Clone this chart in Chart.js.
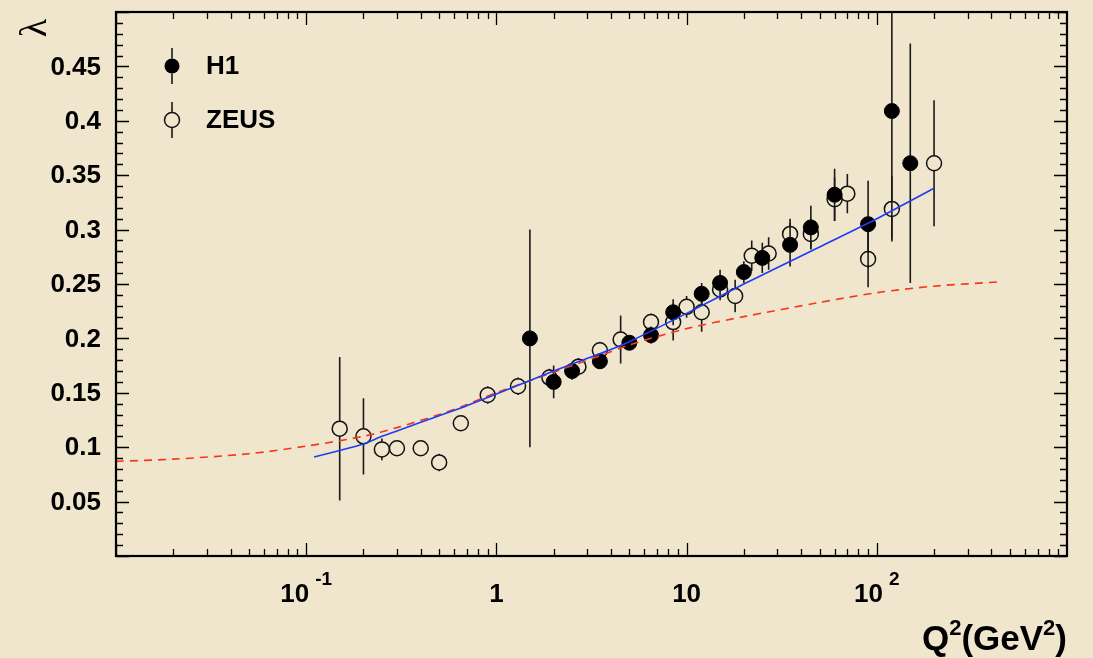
<!DOCTYPE html>
<html>
<head>
<meta charset="utf-8">
<script src="https://cdn.jsdelivr.net/npm/chart.js@4.4.0/dist/chart.umd.min.js"></script>
<style>
  html, body { margin: 0; padding: 0; background: #f0e6cd; }
  #graph { display: block; }
</style>
</head>
<body>
<canvas id="graph" width="1093" height="658"></canvas>
<script>
// H1 measurements (filled circles)
var h1Q2     = [1.5, 2, 2.5, 3.5, 5, 6.5, 8.5, 12, 15, 20, 25, 35, 45, 60, 90, 120, 150];
var h1Lambda = [0.200, 0.160, 0.170, 0.179, 0.196, 0.203, 0.224, 0.241, 0.251, 0.261, 0.274, 0.286, 0.302, 0.332, 0.305, 0.409, 0.361];
var h1Err    = [0.100, 0.015, 0.008, 0.007, 0.007, 0.008, 0.012, 0.010, 0.012, 0.010, 0.014, 0.020, 0.020, 0.024, 0.040, 0.118, 0.110];

// ZEUS measurements (open circles)
var zeusQ2     = [0.15, 0.2, 0.25, 0.3, 0.4, 0.5, 0.65, 0.9, 1.3, 1.9, 2.7, 3.5, 4.5, 6.5, 8.5, 10, 12, 15, 18, 22, 27, 35, 45, 60, 70, 90, 120, 200];
var zeusLambda = [0.117, 0.110, 0.098, 0.099, 0.099, 0.086, 0.122, 0.148, 0.156, 0.164, 0.174, 0.189, 0.199, 0.215, 0.215, 0.229, 0.224, 0.245, 0.239, 0.276, 0.278, 0.296, 0.296, 0.328, 0.333, 0.273, 0.319, 0.361];
var zeusErr    = [0.066, 0.035, 0.010, 0.004, 0.004, 0.008, 0.004, 0.008, 0.008, 0.008, 0.008, 0.008, 0.022, 0.008, 0.017, 0.010, 0.018, 0.010, 0.015, 0.014, 0.015, 0.014, 0.014, 0.020, 0.018, 0.026, 0.030, 0.058];

// fit curves
var blueQ2     = [0.11, 0.15, 0.2, 0.25, 0.3, 0.5, 0.65, 1, 2, 3.5, 5, 10, 20, 50, 100, 200];
var blueLambda = [0.091, 0.097, 0.103, 0.110, 0.115, 0.129, 0.136, 0.149, 0.170, 0.186, 0.197, 0.223, 0.250, 0.284, 0.310, 0.338];
var redQ2      = [0.01, 0.02, 0.05, 0.1, 0.2, 0.3, 0.5, 0.65, 1, 2, 3.5, 5, 10, 20, 50, 100, 200, 445];
var redLambda  = [0.087, 0.089, 0.094, 0.101, 0.110, 0.118, 0.130, 0.137, 0.150, 0.169, 0.184, 0.194, 0.209, 0.220, 0.233, 0.242, 0.248, 0.252];

// axis labels
var yTickValues = [0.05, 0.1, 0.15, 0.2, 0.25, 0.3, 0.35, 0.4, 0.45];
var yTickLabels = ['0.05', '0.1', '0.15', '0.2', '0.25', '0.3', '0.35', '0.4', '0.45'];
var xTickValues = [0.1, 1, 10, 100];
var xTickBase   = ['10', '1', '10', '10'];
var xTickExp    = ['-1', '', '', '2'];
var legendNames = ['H1', 'ZEUS'];

var FONT = "'Liberation Sans', Arial, Helvetica, sans-serif";

var toXY = function(xs, ys) {
  return xs.map(function(x, i) { return { x: x, y: ys[i] }; });
};

var paperBg = {
  id: 'paperBg',
  beforeDraw: function(chart) {
    var ctx = chart.ctx;
    ctx.save();
    ctx.fillStyle = '#f0e6cd';
    ctx.fillRect(0, 0, chart.width, chart.height);
    ctx.restore();
  }
};

// vertical error bars, kept outside the marker circle
var errorBars = {
  id: 'errorBars',
  beforeDatasetsDraw: function(chart) {
    var ctx = chart.ctx;
    var ys = chart.scales.y;
    var area = chart.chartArea;
    ctx.save();
    ctx.beginPath();
    ctx.rect(area.left, area.top, area.right - area.left, area.bottom - area.top);
    ctx.clip();
    chart.data.datasets.forEach(function(ds, i) {
      if (!ds.errors) return;
      var meta = chart.getDatasetMeta(i);
      ctx.strokeStyle = '#1a1a1a';
      ctx.lineWidth = 1.6;
      meta.data.forEach(function(el, j) {
        var v = ds.data[j].y, e = ds.errors[j];
        var top = ys.getPixelForValue(v + e);
        var bot = ys.getPixelForValue(v - e);
        var r = ds.pointRadius;
        ctx.beginPath();
        if (top < el.y - r) { ctx.moveTo(el.x, top); ctx.lineTo(el.x, el.y - r); }
        if (bot > el.y + r) { ctx.moveTo(el.x, el.y + r); ctx.lineTo(el.x, bot); }
        ctx.stroke();
      });
    });
    ctx.restore();
  }
};

// frame, inward ticks, labels, legend, titles (ROOT style)
var frameAxes = {
  id: 'frameAxes',
  afterDraw: function(chart) {
    var ctx = chart.ctx;
    var xs = chart.scales.x, ys = chart.scales.y;
    var a = chart.chartArea;
    ctx.save();
    ctx.strokeStyle = '#000';
    ctx.fillStyle = '#000';

    ctx.lineWidth = 1.3;
    ctx.beginPath();
    for (var k = 0; k <= 50; k++) {
      var py = Math.round(ys.getPixelForValue(k / 100)) + 0.5;
      var len = (k % 5 === 0) ? 13 : 7;
      ctx.moveTo(a.left, py); ctx.lineTo(a.left + len, py);
      ctx.moveTo(a.right, py); ctx.lineTo(a.right - len, py);
    }
    for (var d = -2; d <= 2; d++) {
      for (var m = 1; m <= 9; m++) {
        var px = Math.round(xs.getPixelForValue(m * Math.pow(10, d))) + 0.5;
        var l = (m === 1) ? 13 : 7;
        ctx.moveTo(px, a.bottom); ctx.lineTo(px, a.bottom - l);
        ctx.moveTo(px, a.top); ctx.lineTo(px, a.top + l);
      }
    }
    ctx.stroke();

    ctx.lineWidth = 2.2;
    ctx.strokeRect(a.left, a.top, a.right - a.left, a.bottom - a.top);

    // y labels
    ctx.font = 'bold 26px ' + FONT;
    ctx.textAlign = 'right';
    ctx.textBaseline = 'middle';
    yTickValues.forEach(function(v, i) {
      ctx.fillText(yTickLabels[i], 101, ys.getPixelForValue(v) + 1);
    });

    // x labels with exponents
    ctx.textAlign = 'left';
    ctx.textBaseline = 'alphabetic';
    xTickValues.forEach(function(v, i) {
      var cx = xs.getPixelForValue(v);
      ctx.font = 'bold 26px ' + FONT;
      var wb = ctx.measureText(xTickBase[i]).width;
      ctx.font = 'bold 19px ' + FONT;
      var we = xTickExp[i] ? ctx.measureText(xTickExp[i]).width + 6 : 0;
      var x0 = cx - (wb + we) / 2;
      ctx.font = 'bold 26px ' + FONT;
      ctx.fillText(xTickBase[i], x0, 602);
      if (xTickExp[i]) {
        ctx.font = 'bold 19px ' + FONT;
        ctx.fillText(xTickExp[i], x0 + wb + 6, 585);
      }
    });

    // x title: Q^2(GeV^2), right aligned
    var parts = [['Q', 35, 0], ['2', 22, -15], ['(GeV', 35, 0], ['2', 22, -15], [')', 35, 0]];
    var total = 0;
    parts.forEach(function(p) { ctx.font = 'bold ' + p[1] + 'px ' + FONT; total += ctx.measureText(p[0]).width; });
    var tx = a.right - total;
    parts.forEach(function(p) {
      ctx.font = 'bold ' + p[1] + 'px ' + FONT;
      ctx.fillText(p[0], tx, 650 + p[2]);
      tx += ctx.measureText(p[0]).width;
    });

    // y title: lambda, rotated
    ctx.save();
    ctx.translate(36, 28);
    ctx.rotate(-Math.PI / 2);
    ctx.font = "38px 'Liberation Serif', 'DejaVu Serif', serif";
    ctx.textAlign = 'center';
    ctx.textBaseline = 'middle';
    ctx.fillText('\u03bb', 0, 0);
    ctx.restore();

    // legend
    var ly = [66, 120];
    ctx.lineWidth = 1.6;
    ctx.strokeStyle = '#1a1a1a';
    ly.forEach(function(y, i) {
      ctx.beginPath();
      ctx.moveTo(172, y - 18); ctx.lineTo(172, y - 7.5);
      ctx.moveTo(172, y + 7.5); ctx.lineTo(172, y + 18);
      ctx.stroke();
      ctx.beginPath();
      ctx.arc(172, y, 7.5, 0, Math.PI * 2);
      if (i === 0) { ctx.fillStyle = '#000'; ctx.fill(); }
      else { ctx.lineWidth = 1.5; ctx.strokeStyle = '#111'; ctx.stroke(); }
      ctx.fillStyle = '#000';
      ctx.font = 'bold 26px ' + FONT;
      ctx.textAlign = 'left';
      ctx.textBaseline = 'middle';
      ctx.fillText(legendNames[i], 206, y + 1);
    });
    ctx.restore();
  }
};

var ctx = document.getElementById('graph').getContext('2d');
var chart = new Chart(ctx, {
  type: 'scatter',
  data: {
    datasets: [{
      label: 'fit',
      type: 'line',
      data: toXY(blueQ2, blueLambda),
      borderColor: '#1f3cf5',
      borderWidth: 1.6,
      pointRadius: 0,
      tension: 0.2,
      fill: false,
      order: 0
    }, {
      label: 'dipole',
      type: 'line',
      data: toXY(redQ2, redLambda),
      borderColor: '#f5381c',
      borderWidth: 1.6,
      borderDash: [8, 6],
      pointRadius: 0,
      tension: 0.3,
      fill: false,
      order: 0
    }, {
      label: 'H1',
      data: toXY(h1Q2, h1Lambda),
      errors: h1Err,
      pointRadius: 7.5,
      pointBackgroundColor: '#000',
      pointBorderColor: '#000',
      pointBorderWidth: 1,
      order: 1
    }, {
      label: 'ZEUS',
      data: toXY(zeusQ2, zeusLambda),
      errors: zeusErr,
      pointRadius: 7.5,
      pointBackgroundColor: 'rgba(0,0,0,0)',
      pointBorderColor: '#111',
      pointBorderWidth: 1.5,
      order: 1
    }]
  },
  options: {
    responsive: false,
    animation: false,
    events: [],
    layout: { padding: { left: 116, top: 12, right: 26, bottom: 102 } },
    plugins: { legend: { display: false }, tooltip: { enabled: false } },
    scales: {
      x: { type: 'logarithmic', min: 0.01, max: 1000, display: false },
      y: { type: 'linear', min: 0, max: 0.5, display: false }
    }
  },
  plugins: [paperBg, errorBars, frameAxes]
});
</script>
</body>
</html>
